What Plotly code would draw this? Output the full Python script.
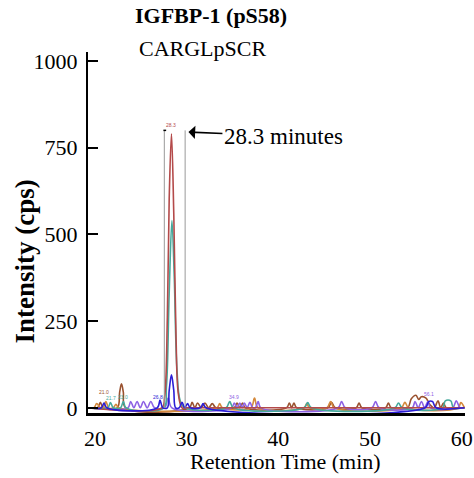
import plotly.graph_objects as go

# Retention times (min) and intensities (cps)
red_t = [19.3, 27.3, 27.6, 27.9, 28.1, 28.35, 28.6, 28.85, 29.1, 29.5, 30.0, 60.3]
red_i = [0, 0, 30, 260, 600, 790, 560, 200, 40, 0, 0, 0]

teal_t = [19.3, 21.4, 21.7, 22.0, 22.8, 23.1, 23.4, 27.5, 27.8, 28.1, 28.4, 28.65, 28.95, 29.3, 29.8,
          34.3, 34.7, 35.1, 42.8, 43.2, 43.6, 52.7, 53.1, 53.5, 57.9, 58.2, 58.8, 59.1, 60.3]
teal_i = [0, 0, 15, 0, 0, 18, 0, 0, 60, 330, 540, 380, 110, 20, 0,
          0, 18, 0, 0, 15, 0, 0, 14, 0, 0, 20, 20, 0, 0]

blue_t = [19.3, 20.7, 21.0, 21.3, 26.8, 27.1, 27.4, 27.9, 28.1, 28.35, 28.6, 28.8, 29.2, 29.5, 29.8,
          30.1, 30.4, 31.5, 31.8, 32.1, 56.0, 56.4, 56.8, 57.2, 60.3]
blue_i = [0, 0, 14, 0, 0, 22, 0, 0, 50, 95, 50, 0, 0, 16, 0,
          12, 0, 0, 12, 0, 0, 18, 18, 0, 0]

purple_t = [19.3, 23.6, 23.9, 24.25, 24.6, 24.95, 25.3, 25.7, 26.1, 26.5, 27.6, 28.0, 28.4,
            34.9, 35.2, 35.5, 35.8, 36.05, 36.3, 36.6, 36.9, 37.2, 37.5, 37.8, 38.1,
            46.5, 46.9, 47.3, 50.2, 50.6, 51.0, 54.6, 54.9, 55.25, 55.6, 55.95, 56.3, 56.6,
            59.0, 59.4, 59.8, 60.3]
purple_i = [0, 0, 18, 0, 18, 0, 18, 0, 18, 0, 0, 28, 0,
            0, 14, 0, 14, 0, 14, 0, 16, 0, 0, 18, 0,
            0, 18, 0, 0, 18, 0, 0, 18, 0, 18, 0, 18, 0,
            0, 20, 0, 0]

brown_t = [19.3, 20.3, 20.6, 20.9, 22.45, 22.7, 22.9, 23.1, 23.35, 30.3, 30.6, 30.9, 31.2, 31.6, 32.0,
           32.4, 32.8, 33.2, 35.2, 35.5, 35.8, 36.1, 36.4, 40.9, 41.2, 41.45, 41.7, 42.0, 45.4, 45.8,
           46.2, 48.5, 48.8, 49.1, 51.7, 52.0, 52.3, 54.1, 54.5, 55.0, 55.3, 55.6, 56.1, 56.5, 57.0,
           57.4, 57.7, 58.0, 58.3, 60.3]
brown_i = [0, 0, 16, 0, 0, 45, 69, 45, 0, 0, 16, 0, 14, 0, 14,
           0, 12, 0, 0, 14, 0, 14, 0, 0, 14, 0, 14, 0, 0, 16,
           0, 0, 14, 0, 0, 14, 0, 0, 26, 36, 24, 32, 28, 10, 0,
           20, 0, 14, 0, 0]

orange_t = [19.3, 19.9, 20.2, 20.6, 20.9, 21.2, 21.5, 22.0, 22.3, 22.6, 33.3, 33.6, 33.9,
            37.0, 37.4, 37.8, 42.8, 43.1, 43.4, 45.3, 45.7, 46.1, 53.4, 53.8, 54.2, 59.6, 59.9, 60.3]
orange_i = [0, 0, 12, 0, 0, 18, 0, 0, 10, 0, 0, 12, 0,
            0, 28, 0, 0, 12, 0, 0, 18, 0, 0, 16, 0, 0, 15, 0]

series_names = ["brown", "orange", "purple", "teal", "red", "blue"]
series_colors = ["#9a5230", "#d4893c", "#8e62e4", "#46a99c", "#b44a4a", "#2c1ed6"]
series_t = [brown_t, orange_t, purple_t, teal_t, red_t, blue_t]
series_i = [brown_i, orange_i, purple_i, teal_i, red_i, blue_i]

# small retention-time labels printed above peaks
peak_label_t = [21.0, 21.8, 23.1, 26.9, 28.35, 35.2, 56.4]
peak_label_i = [45, 28, 30, 30, 815, 30, 40]
peak_label_txt = ["21.0", "21.7", "23.0", "26.8", "28.3", "34.9", "56.1"]
peak_label_col = ["#9a5230", "#46a99c", "#46a99c", "#2c1ed6", "#b44a4a", "#8e62e4", "#8e62e4"]

# integration window around the target peak
box_start, box_end, box_top = 27.57, 29.84, 800

yticks = [0, 250, 500, 750, 1000]
xticks = [20, 30, 40, 50, 60]

FONT = "Liberation Serif, Times New Roman, serif"

fig = go.Figure()
for name, col, t, i in zip(series_names, series_colors, series_t, series_i):
    fig.add_trace(go.Scatter(x=t, y=i, mode="lines", name=name,
                             line=dict(color=col, width=1.6, shape="spline", smoothing=1.0)))

shapes = [
    dict(type="line", xref="x", yref="y", x0=box_start, x1=box_start, y0=0, y1=box_top,
         line=dict(color="#9a9a9a", width=1)),
    dict(type="line", xref="x", yref="y", x0=box_end, x1=box_end, y0=0, y1=box_top,
         line=dict(color="#9a9a9a", width=1)),
    dict(type="line", xref="x", yref="y", x0=box_start - 0.1, x1=box_start + 0.2, y0=box_top, y1=box_top,
         line=dict(color="black", width=1.5)),
]

annotations = [
    dict(text="<b>IGFBP-1 (pS58)</b>", xref="paper", yref="paper", x=0.327, y=1.102,
         xanchor="center", yanchor="middle", showarrow=False,
         font=dict(family=FONT, size=22, color="black")),
    dict(text="CARGLpSCR", xref="paper", yref="paper", x=0.303, y=1.011,
         xanchor="center", yanchor="middle", showarrow=False,
         font=dict(family=FONT, size=22, color="black")),
    dict(text="<b>Intensity (cps)</b>", xref="paper", yref="paper", x=-0.167, y=0.42,
         xanchor="center", yanchor="middle", textangle=-90, showarrow=False,
         font=dict(family=FONT, size=27, color="black")),
    dict(text="Retention Time (min)", xref="paper", yref="paper", x=0.523, y=-0.133,
         xanchor="center", yanchor="middle", showarrow=False,
         font=dict(family=FONT, size=22, color="black")),
    dict(text="28.3 minutes", xref="x", yref="y", x=30.2, y=795, ax=95, ay=4,
         showarrow=True, arrowhead=1, arrowsize=1.4, arrowwidth=1.6, arrowcolor="black",
         font=dict(family=FONT, size=23, color="black")),
]
for t, i, txt, col in zip(peak_label_t, peak_label_i, peak_label_txt, peak_label_col):
    annotations.append(dict(text=txt, x=t, y=i, xref="x", yref="y", showarrow=False,
                            font=dict(family="Arial", size=5, color=col)))

fig.update_layout(
    width=474, height=478,
    margin=dict(l=88, r=9, t=52, b=65),
    plot_bgcolor="white", paper_bgcolor="white",
    showlegend=False,
    shapes=shapes,
    annotations=annotations,
    xaxis=dict(range=[19.25, 60.35], tickvals=xticks, showline=True, linewidth=3,
               linecolor="black", ticks="", showgrid=False, zeroline=False, automargin=False,
               ticklabelstandoff=4, ticklabeloverflow="allow",
               tickfont=dict(family=FONT, size=22, color="black")),
    yaxis=dict(range=[-15, 1026], tickvals=yticks, showline=True, linewidth=2,
               linecolor="black", ticks="inside", ticklen=10, tickwidth=2, tickcolor="black",
               showgrid=False, zeroline=False, automargin=False, ticklabelstandoff=4,
               tickfont=dict(family=FONT, size=22, color="black")),
)

# page body has a default margin; drop it so the figure sits at the top-left corner
fig.write_html("out.html", config={"displayModeBar": False},
               post_script="document.body.style.margin='0';")
